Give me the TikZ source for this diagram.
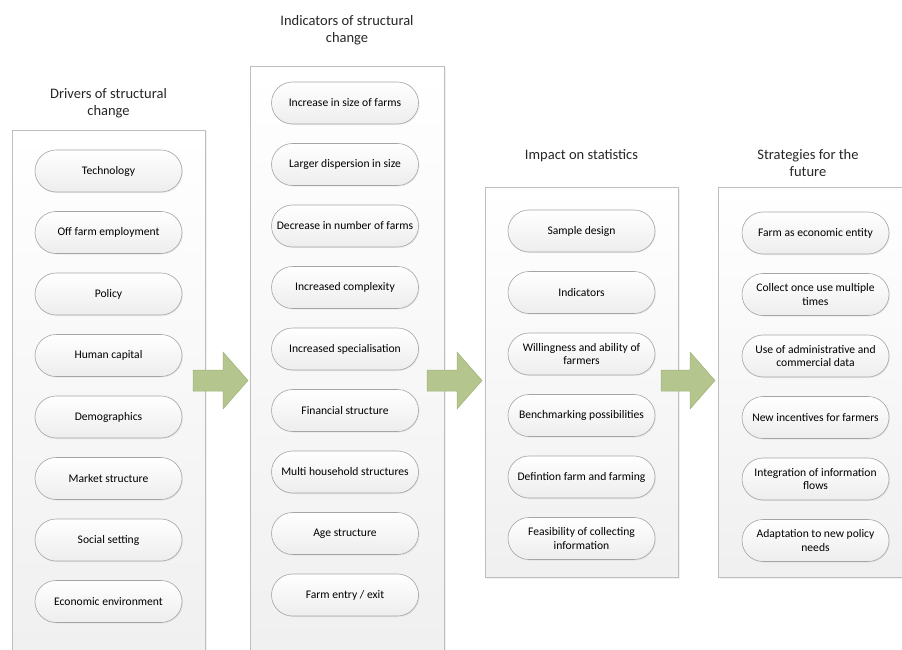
\documentclass[tikz,border=0pt]{standalone}
\usepackage{fontspec}
\setmainfont{Carlito}
\usetikzlibrary{shapes.misc,shadows}
\definecolor{arrowgreen}{RGB}{181,197,142}
\definecolor{arrowedge}{RGB}{160,178,120}
\definecolor{panelline}{RGB}{190,190,190}
\definecolor{pillline}{RGB}{165,165,165}
\begin{document}
\begin{tikzpicture}[x=1pt,y=-1pt,
    panel/.style={draw=panelline, line width=0.8pt, top color=white, bottom color=black!6,
      drop shadow={shadow xshift=1.5pt, shadow yshift=-1.5pt, opacity=0.12}},
    pill/.style={rounded rectangle, draw=pillline, line width=0.6pt, top color=white, bottom color=black!7,
      minimum width=147pt, minimum height=42pt, inner sep=0pt, align=center,
      font=\fontsize{11.6}{13.5}\selectfont,
      drop shadow={shadow xshift=1pt, shadow yshift=-1pt, opacity=0.12}},
    heading/.style={align=center, font=\fontsize{14.5}{16.5}\selectfont, text=black!85},
    blockarrow/.style={fill=arrowgreen, draw=arrowedge, line width=0.5pt}]
    \useasboundingbox (0,0) rectangle (902,650);
    \draw[panel] (12,130) rectangle (205,660);
    \draw[panel] (250,66) rectangle (444,660);
    \draw[panel] (485,187) rectangle (678,577);
    \draw[panel] (718,187) rectangle (912,577);
    \node[heading] (drvtitle) at (108.5,103) {Drivers of structural\\change};
    \node[heading] (indtitle) at (347,30) {Indicators of structural\\change};
    \node[heading] (imptitle) at (581.5,156) {Impact on statistics};
    \node[heading] (strtitle) at (808,163) {Strategies for the\\future};
    \node[pill] (drv1) at (108.5,171) {Technology};
    \node[pill] (drv2) at (108.5,232.5) {Off farm employment};
    \node[pill] (drv3) at (108.5,294) {Policy};
    \node[pill] (drv4) at (108.5,355.5) {Human capital};
    \node[pill] (drv5) at (108.5,417) {Demographics};
    \node[pill] (drv6) at (108.5,478.5) {Market structure};
    \node[pill] (drv7) at (108.5,540) {Social setting};
    \node[pill] (drv8) at (108.5,601.5) {Economic environment};
    \node[pill] (ind1) at (345,103) {Increase in size of farms};
    \node[pill] (ind2) at (345,164.5) {Larger dispersion in size};
    \node[pill] (ind3) at (345,226) {Decrease in number of farms};
    \node[pill] (ind4) at (345,287.5) {Increased complexity};
    \node[pill] (ind5) at (345,349) {Increased specialisation};
    \node[pill] (ind6) at (345,410.5) {Financial structure};
    \node[pill] (ind7) at (345,472) {Multi household structures};
    \node[pill] (ind8) at (345,533.5) {Age structure};
    \node[pill] (ind9) at (345,595) {Farm entry / exit};
    \node[pill] (imp1) at (581.5,231) {Sample design};
    \node[pill] (imp2) at (581.5,292.5) {Indicators};
    \node[pill] (imp3) at (581.5,354) {Willingness and ability of\\farmers};
    \node[pill] (imp4) at (581.5,415.5) {Benchmarking possibilities};
    \node[pill] (imp5) at (581.5,477) {Defintion farm and farming};
    \node[pill] (imp6) at (581.5,538.5) {Feasibility of collecting\\information};
    \node[pill] (str1) at (815.5,233) {Farm as economic entity};
    \node[pill] (str2) at (815.5,294.5) {Collect once use multiple\\times};
    \node[pill] (str3) at (815.5,356) {Use of administrative and\\commercial data};
    \node[pill] (str4) at (815.5,417.5) {New incentives for farmers};
    \node[pill] (str5) at (815.5,479) {Integration of information\\flows};
    \node[pill] (str6) at (815.5,540.5) {Adaptation to new policy\\needs};
    \draw[blockarrow] (193,370) -- (223,370) -- (223,352) -- (248,380.5) -- (223,409) -- (223,391) -- (193,391) -- cycle;
    \draw[blockarrow] (427,370) -- (457,370) -- (457,352) -- (482,380.5) -- (457,409) -- (457,391) -- (427,391) -- cycle;
    \draw[blockarrow] (661,370) -- (690,370) -- (690,352) -- (715,380.5) -- (690,409) -- (690,391) -- (661,391) -- cycle;
\end{tikzpicture}
\end{document}
